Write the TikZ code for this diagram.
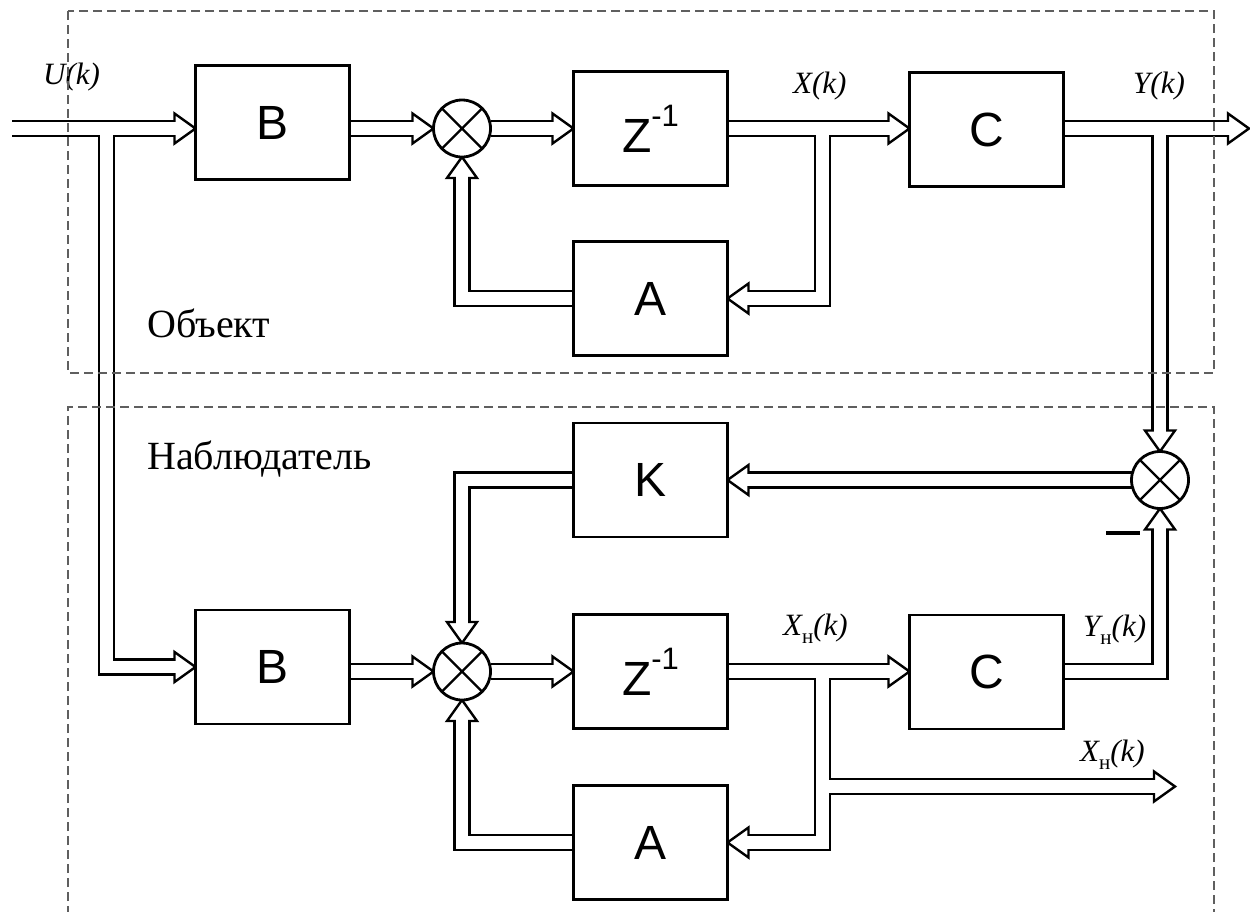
\documentclass[tikz,border=0pt]{standalone}
\usepackage{fontspec}
\setmainfont{Liberation Serif}
\newfontfamily\blkfont{Liberation Sans}
\usetikzlibrary{calc}
\pgfdeclarelayer{background}
\pgfdeclarelayer{foreground}
\pgfsetlayers{background,main,foreground}
\newcommand\mysubn{\raisebox{-8pt}{\upshape\fontsize{21}{21}\selectfont н}}
\newcommand\wires{%
  \draw[wire] (in) -- ($(B1.west|-in)+(-18,0)$);
  \draw[wire] (j1) -- (j1|-B2.west) -- ($(B2.west)+(-18,0)$);
  \draw[wire] (B1.east|-S1) -- ($(S1.west)+(-18,0)$);
  \draw[wire] (S1.east) -- ($(Z1.west)+(-18,0)$);
  \draw[wire] (Z1.east) -- ($(C1.west|-Z1.east)+(-18,0)$);
  \draw[wire] (j2) -- (j2|-A1.east) -- ($(A1.east)+(18,0)$);
  \draw[wire] (A1.west) -- (S1|-A1.west) -- ($(S1.south)+(0,18)$);
  \draw[wire] (C1.east|-Z1.east) -- ($(out)+(-18,0)$);
  \draw[wire] (j3) -- ($(S3.north)+(0,-18)$);
  \draw[wire] (S3.west) -- ($(K.east)+(18,0)$);
  \draw[wire] (K.west) -- (S2|-K.west) -- ($(S2.north)+(0,-18)$);
  \draw[wire] (B2.east|-S2) -- ($(S2.west)+(-18,0)$);
  \draw[wire] (S2.east) -- ($(Z2.west)+(-18,0)$);
  \draw[wire] (Z2.east) -- ($(C2.west|-Z2.east)+(-18,0)$);
  \draw[wire] (j4) -- (j4|-A2.east) -- ($(A2.east)+(18,0)$);
  \draw[wire] (j5) -- ($(xout)+(-18,0)$);
  \draw[wire] (C2.east|-Z2.east) -- (S3|-Z2.east) -- ($(S3.south)+(0,18)$);
  \draw[wire] (A2.west) -- (S2|-A2.west) -- ($(S2.south)+(0,18)$);
}
\begin{document}
\begin{tikzpicture}[x=1pt,y=-1pt,
  blk/.style={draw, line width=2.8pt, fill=white, minimum width=154pt, minimum height=114pt,
    inner sep=0pt, outer sep=0pt, font=\blkfont\fontsize{48}{48}\selectfont},
  sum/.style={circle, draw, line width=2.8pt, fill=white, minimum size=57pt, inner sep=0pt, outer sep=0pt,
    path picture={\draw[line width=2.3pt] (path picture bounding box.north west) -- (path picture bounding box.south east)
      (path picture bounding box.north east) -- (path picture bounding box.south west);}},
  ahead/.pic={\draw[line width=2.4pt, fill=white, line join=miter] (0,0) -- (-21,15) -- (-21,-15) -- cycle;},
  lbl/.style={inner sep=0pt, font=\itshape\fontsize{31}{31}\selectfont},
  cyr/.style={inner sep=0pt, font=\fontsize{40}{40}\selectfont},
  dbox/.style={draw={rgb,255:red,95;green,95;blue,95}, line width=1.2pt, dash pattern=on 9pt off 5pt}
]
\useasboundingbox (0,0) rectangle (1250,911);
% blocks
\node[blk] (B1) at (272.5,122.5) {B};
\node[sum] (S1) at (462,128.5) {};
\node[blk] (Z1) at (650.5,128.5) {Z\raisebox{26pt}{\fontsize{31}{31}\selectfont -1}};
\node[blk] (C1) at (986.5,129.5) {C};
\node[blk] (A1) at (650.5,298.5) {A};
\node[blk] (K) at (650.5,480) {K};
\node[sum] (S3) at (1160,480) {};
\node[blk] (B2) at (272.5,667) {B};
\node[sum] (S2) at (462,671.5) {};
\node[blk] (Z2) at (650.5,671.5) {Z\raisebox{26pt}{\fontsize{31}{31}\selectfont -1}};
\node[blk] (C2) at (986.5,672) {C};
\node[blk] (A2) at (650.5,842.5) {A};
% named points
\coordinate (in) at (12,128.5);
\coordinate (out) at (1249,128.5);
\coordinate (xout) at (1175,786.5);
\coordinate (j1) at (106.5,128.5);
\coordinate (j2) at (822.5,128.5);
\coordinate (j3) at (1160,128.5);
\coordinate (j4) at (822.5,671.5);
\coordinate (j5) at (822.5,786.5);
\begin{pgfonlayer}{background}
  \begin{scope}[wire/.style={line width=17.4pt, black}]
    \wires
  \end{scope}
  \pic at (B1.west|-in) {ahead};
  \pic at (S1.west) {ahead};
  \pic at (Z1.west) {ahead};
  \pic at (C1.west|-Z1.east) {ahead};
  \pic at (out) {ahead};
  \pic[rotate=180] at (A1.east) {ahead};
  \pic[rotate=90] at (S1.south) {ahead};
  \pic at (B2.west) {ahead};
  \pic[rotate=-90] at (S3.north) {ahead};
  \pic[rotate=180] at (K.east) {ahead};
  \pic[rotate=-90] at (S2.north) {ahead};
  \pic at (S2.west) {ahead};
  \pic at (Z2.west) {ahead};
  \pic at (C2.west|-Z2.east) {ahead};
  \pic[rotate=180] at (A2.east) {ahead};
  \pic at (xout) {ahead};
  \pic[rotate=90] at (S3.south) {ahead};
  \pic[rotate=90] at (S2.south) {ahead};
  \begin{scope}[wire/.style={line width=12.6pt, white}]
    \wires
  \end{scope}
\end{pgfonlayer}
% minus sign
\draw[line width=4pt] (1106,533) -- (1140,533);
% labels
\node[lbl, anchor=base west] (lU) at (43,84) {U(k)};
\node[lbl, anchor=base west] (lX) at (793,93) {X(k)};
\node[lbl, anchor=base west] (lY) at (1133,93) {Y(k)};
\node[lbl, anchor=base west] (lXn) at (783,635) {X\mysubn(k)};
\node[lbl, anchor=base west] (lYn) at (1083,636) {Y\mysubn(k)};
\node[lbl, anchor=base west] (lXo) at (1080,761) {X\mysubn(k)};
\node[cyr, anchor=base west] (obj) at (147,337) {Объект};
\node[cyr, anchor=base west] (obs) at (147,469) {Наблюдатель};
% dashed frames
\begin{pgfonlayer}{foreground}
  \draw[dbox] (68,11) rectangle (1214,373);
  \draw[dbox] (68,915) -- (68,407) -- (1214,407) -- (1214,915);
\end{pgfonlayer}
\end{tikzpicture}
\end{document}
